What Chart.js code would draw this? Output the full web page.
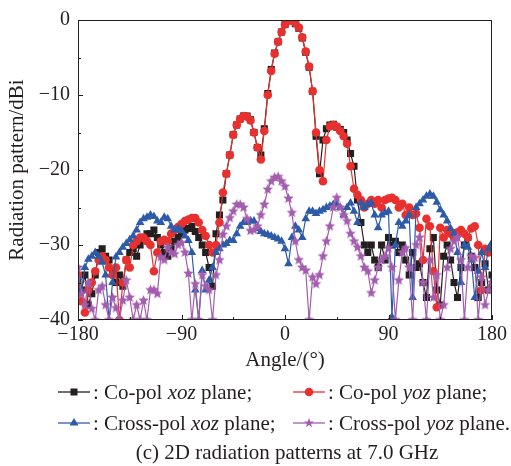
<!DOCTYPE html>
<html>
<head>
<meta charset="utf-8">
<script src="https://cdn.jsdelivr.net/npm/chart.js@4.4.1/dist/chart.umd.min.js"></script>
<style>
  html, body { margin: 0; padding: 0; background: #fff; }
  #wrap { position: relative; width: 511px; height: 466px; font-family: "Liberation Serif", "Times New Roman", serif; color: #231f20; }
  #c { position: absolute; left: 0; top: 0; }
  .item { position: absolute; display: flex; align-items: center; height: 24px; font-size: 21px; white-space: nowrap; }
  .item svg { margin-right: 3px; }
  #caption { position: absolute; left: 0; width: 574px; top: 440px; text-align: center; font-size: 21px; line-height: 24px; }
</style>
</head>
<body>
<div id="wrap">
  <canvas id="c" width="511" height="466"></canvas>
  <div class="item" style="left:58px;top:380px"><svg width="32" height="24"><line x1="0" y1="12" x2="32" y2="12" stroke="#231f20" stroke-width="1.3"/><rect x="12.5" y="8.5" width="7" height="7" fill="#231f20"/></svg><span>: Co-pol <i>xoz</i> plane;</span></div>
  <div class="item" style="left:293px;top:380px"><svg width="32" height="24"><line x1="0" y1="12" x2="32" y2="12" stroke="#e8302e" stroke-width="1.3"/><circle cx="16" cy="12" r="4.3" fill="#e8302e"/></svg><span>: Co-pol <i>yoz</i> plane;</span></div>
  <div class="item" style="left:58px;top:411px"><svg width="32" height="24"><line x1="0" y1="12" x2="32" y2="12" stroke="#2d5ba8" stroke-width="1.3"/><polygon points="16,7 20.5,14.5 11.5,14.5" fill="#2d5ba8"/></svg><span>: Cross-pol <i>xoz</i> plane;</span></div>
  <div class="item" style="left:293px;top:411px"><svg width="32" height="24"><line x1="0" y1="12" x2="32" y2="12" stroke="#a35dae" stroke-width="1.3"/><polygon points="16,6.8 17.3,10.4 21,10.4 18,12.7 19.1,16.3 16,14.1 12.9,16.3 14,12.7 11,10.4 14.7,10.4" fill="#a35dae"/></svg><span>: Cross-pol <i>yoz</i> plane.</span></div>
  <div id="caption">(c) 2D radiation patterns at 7.0 GHz</div>
</div>
<script>
// angle grid (deg)
const angles = [
  -180,-177,-174,-171,-168,-165,-162,-159,-156,-153,
  -150,-147,-144,-141,-138,-135,-132,-129,-126,-123,
  -120,-117,-114,-111,-108,-105,-102,-99,-96,-93,
  -90,-87,-84,-81,-78,-75,-72,-69,-66,-63,
  -60,-57,-54,-51,-48,-45,-42,-39,-36,-33,
  -30,-27,-24,-21,-18,-15,-12,-9,-6,-3,
  0,3,6,9,12,15,18,21,24,27,
  30,33,36,39,42,45,48,51,54,57,
  60,63,66,69,72,75,78,81,84,87,
  90,93,96,99,102,105,108,111,114,117,
  120,123,126,129,132,135,138,141,144,147,
  150,153,156,159,162,165,168,171,174,177,
  180
];

// Co-pol xoz (dBi)
const coXoz = [
  -35,-36,-34,-38,-36.5,-34,-31,-30.5,-31.5,-32,
  -33.5,-35,-34,-35.5,-32,-31,-30.5,-31.5,-30,-29,
  -28.5,-28.5,-28,-29,-30,-31,-31.5,-30.5,-29.5,-29,
  -28.5,-28,-27.8,-27.5,-28.2,-29,-30,-31,-33,-35.5,
  -28.5,-26,-24,-20.5,-18,-15.3,-14,-13.2,-12.8,-12.8,
  -13.3,-15,-17,-18,-14.5,-9.8,-6.6,-4.4,-2.9,-1.6,
  -0.6,-0.1,-0.1,-0.5,-1.1,-2.4,-4.3,-6.3,-9.5,-15.5,
  -20.5,-16,-14.5,-14,-13.9,-14.3,-14.6,-15,-16,-17.8,
  -19.5,-24,-27,-30,-31,-30,-32,-33,-30,-32,
  -29,-30,-29.5,-31,-30,-32,-34,-31,-33,-32.5,
  -35,-37,-30.5,-29,-36,-38,-31.5,-30,-32,-35,
  -37,-33,-30,-29,-31.5,-33,-37,-35,-32.5,-36,
  -34
];

// Co-pol yoz (dBi)
const coYoz = [
  -34,-37.5,-39,-36,-35,-33.5,-32,-31.5,-32,-33,
  -34,-33,-40,-35,-32,-33,-30,-29.5,-29,-29,
  -29.5,-30,-33.5,-31,-29.5,-29.3,-29.5,-28.5,-28,-27.6,
  -27.2,-26.8,-26.6,-26.4,-26.4,-27,-28,-28.8,-30,-31,
  -30,-27,-23,-20.5,-18,-15.3,-14,-13.2,-12.8,-12.9,
  -13.4,-15,-17,-18.6,-14.8,-10,-6.8,-4.5,-2.9,-1.6,
  -0.6,-0.1,0,-0.4,-1,-2.3,-4.2,-6.2,-9.5,-15,
  -20,-21.5,-16,-14.2,-14,-14.2,-14.8,-15.5,-16.5,-19.5,
  -22.5,-23.3,-24,-25,-24.5,-24,-24.5,-24,-25,-24,
  -23.8,-23.7,-24,-25,-24.5,-26,-25,-26,-25.8,-27.7,
  -32,-26.5,-27.5,-33.5,-38.3,-27.7,-29,-28,-28.5,-29,
  -28.3,-28,-28.5,-29,-27.8,-27.5,-30,-36,-30.5,-31,
  -30.5
];

// Cross-pol xoz (dBi)
const crossXoz = [
  -34.3,-36,-33,-31.9,-31.5,-31,-31.5,-32.3,-34,-40,
  -35,-31.6,-31,-30.3,-29.8,-29.3,-28.8,-28,-27,-26.5,
  -26.3,-26,-26.2,-26.8,-27,-26.3,-26.5,-27.5,-28,-27.8,
  -28.1,-28.8,-29.4,-31,-36,-40,-33.4,-36,-34.7,-33,
  -31,-30.5,-30,-29.8,-29.4,-29.4,-28.5,-27.5,-27,-27,
  -26.8,-26.8,-27.8,-28.2,-28.5,-28.6,-28.8,-29,-29.2,-29.5,
  -30.5,-32.5,-29,-27.5,-28,-29,-26.5,-25.5,-25.5,-25.8,
  -25.5,-25.3,-25,-24.8,-24.6,-24.6,-25,-26,-25,-24.4,
  -25.5,-27,-24.4,-25,-24.6,-24.4,-26,-27.7,-26,-25.7,
  -25.5,-39.6,-30,-27,-27.5,-26.8,-26,-37,-25,-24.5,
  -24,-23.5,-23.2,-23.5,-24.3,-25.3,-26,-26.8,-27.8,-28.5,
  -31,-35,-30,-30.3,-32,-37,-33.5,-31,-33,-30.5,
  -29.7
];

// Cross-pol yoz (dBi)
const crossYoz = [
  -33,-36.5,-38,-35,-38.5,-40,-36,-35.5,-38,-40,
  -37,-38.4,-40,-37.4,-34.7,-37,-40,-38,-40,-37.4,
  -40,-36,-36,-36.5,-31.6,-32,-30.3,-31,-31.2,-30,
  -29.7,-31,-33.8,-40,-35.2,-40,-34,-35.5,-36,-40,
  -34,-32,-28.6,-27.5,-26.4,-25.5,-24.6,-24.6,-25,-26.5,
  -28.1,-28,-27.5,-26,-24.6,-22.6,-21.5,-21,-20.9,-21.5,
  -22.2,-23.8,-25.7,-29.5,-32,-33,-33.4,-40,-34.3,-35.2,
  -34,-31.5,-29.5,-27.5,-25,-23.7,-25,-26,-26.8,-28.5,
  -29.5,-30.3,-31.5,-33,-33.5,-36.4,-34.7,-33,-32,-31.5,
  -30.4,-33,-40,-34.7,-31,-30.4,-33,-40,-30,-29,
  -35,-40,-32,-37,-34,-40,-38,-33,-30.5,-29.5,
  -29,-32,-40,-33,-31.5,-31.7,-40,-34.3,-38,-36,
  -35
];

const xTicks = [-180, -90, 0, 90, 180];
const yTicks = [0, -10, -20, -30, -40];

const FONT = '"Liberation Serif", "Times New Roman", serif';
const INK = '#231f20';

function pairs(vals) {
  return angles.map((a, i) => ({ x: a, y: vals[i] }));
}

// filled five-point star used as point style
function makeStar(color, r) {
  const s = Math.ceil(r * 2) + 2;
  const c = document.createElement('canvas');
  c.width = s; c.height = s;
  const g = c.getContext('2d');
  g.fillStyle = color;
  g.beginPath();
  for (let k = 0; k < 10; k++) {
    const rr = k % 2 === 0 ? r : r * 0.45;
    const ang = -Math.PI / 2 + k * Math.PI / 5;
    const px = s / 2 + rr * Math.cos(ang);
    const py = s / 2 + rr * Math.sin(ang);
    if (k === 0) g.moveTo(px, py); else g.lineTo(px, py);
  }
  g.closePath();
  g.fill();
  return c;
}

// frame + inward ticks
const frame = {
  id: 'frame',
  afterDraw(chart) {
    const { ctx, chartArea: a, scales: { x, y } } = chart;
    ctx.save();
    ctx.strokeStyle = INK;
    ctx.lineWidth = 1;
    ctx.strokeRect(a.left + 0.5, a.top + 0.5, a.right - a.left - 1, a.bottom - a.top - 1);
    ctx.beginPath();
    for (let v = -180; v <= 180; v += 45) {
      const px = Math.round(x.getPixelForValue(v)) + 0.5;
      const len = v % 90 === 0 ? 5 : 3;
      ctx.moveTo(px, a.bottom);
      ctx.lineTo(px, a.bottom - len);
    }
    for (let v = 0; v >= -40; v -= 5) {
      const py = Math.round(y.getPixelForValue(v)) + 0.5;
      const len = v % 10 === 0 ? 5 : 3;
      ctx.moveTo(a.left, py);
      ctx.lineTo(a.left + len, py);
    }
    ctx.stroke();
    ctx.restore();
  }
};

const minus = v => String(v).replace('-', '\u2212');

new Chart(document.getElementById('c').getContext('2d'), {
  type: 'line',
  data: {
    datasets: [
      {
        label: 'Co-pol xoz plane', data: pairs(coXoz), order: 4,
        borderColor: INK, backgroundColor: INK, borderWidth: 1.2,
        pointStyle: 'rect', pointRadius: 5, pointBorderWidth: 0
      },
      {
        label: 'Co-pol yoz plane', data: pairs(coYoz), order: 3,
        borderColor: '#e8302e', backgroundColor: '#e8302e', borderWidth: 1.2,
        pointStyle: 'circle', pointRadius: 4.3, pointBorderWidth: 0
      },
      {
        label: 'Cross-pol xoz plane', data: pairs(crossXoz), order: 2,
        borderColor: '#2d5ba8', backgroundColor: '#2d5ba8', borderWidth: 1.2,
        pointStyle: 'triangle', pointRadius: 5, pointBorderWidth: 0
      },
      {
        label: 'Cross-pol yoz plane', data: pairs(crossYoz), order: 1,
        borderColor: '#a35dae', backgroundColor: '#a35dae', borderWidth: 1.2,
        pointStyle: makeStar('#a35dae', 5.5), pointRadius: 5, pointBorderWidth: 0
      }
    ]
  },
  options: {
    responsive: false,
    animation: false,
    events: [],
    layout: { padding: { left: 0, top: 17, right: 19, bottom: 92 } },
    plugins: { legend: { display: false }, tooltip: { enabled: false } },
    scales: {
      x: {
        type: 'linear', min: -180, max: 180,
        afterFit: s => { s.height = 54; },
        afterBuildTicks: s => { s.ticks = xTicks.map(v => ({ value: v })); },
        grid: { display: false, drawTicks: false },
        border: { display: false },
        ticks: { padding: 3, color: INK, font: { family: FONT, size: 20 }, callback: minus, maxRotation: 0 },
        title: { display: true, text: 'Angle/(\u00b0)', color: INK, font: { family: FONT, size: 21 }, padding: { top: 0, bottom: 1 } }
      },
      y: {
        type: 'linear', min: -40, max: 0,
        afterFit: s => { s.width = 78; },
        afterBuildTicks: s => { s.ticks = yTicks.map(v => ({ value: v })); },
        grid: { display: false, drawTicks: false },
        border: { display: false },
        ticks: { padding: 8, color: INK, font: { family: FONT, size: 20 }, callback: minus },
        title: { display: true, text: 'Radiation pattern/dBi', color: INK, font: { family: FONT, size: 21 }, padding: { top: 5, bottom: 0 } }
      }
    }
  },
  plugins: [frame]
});
</script>
</body>
</html>
